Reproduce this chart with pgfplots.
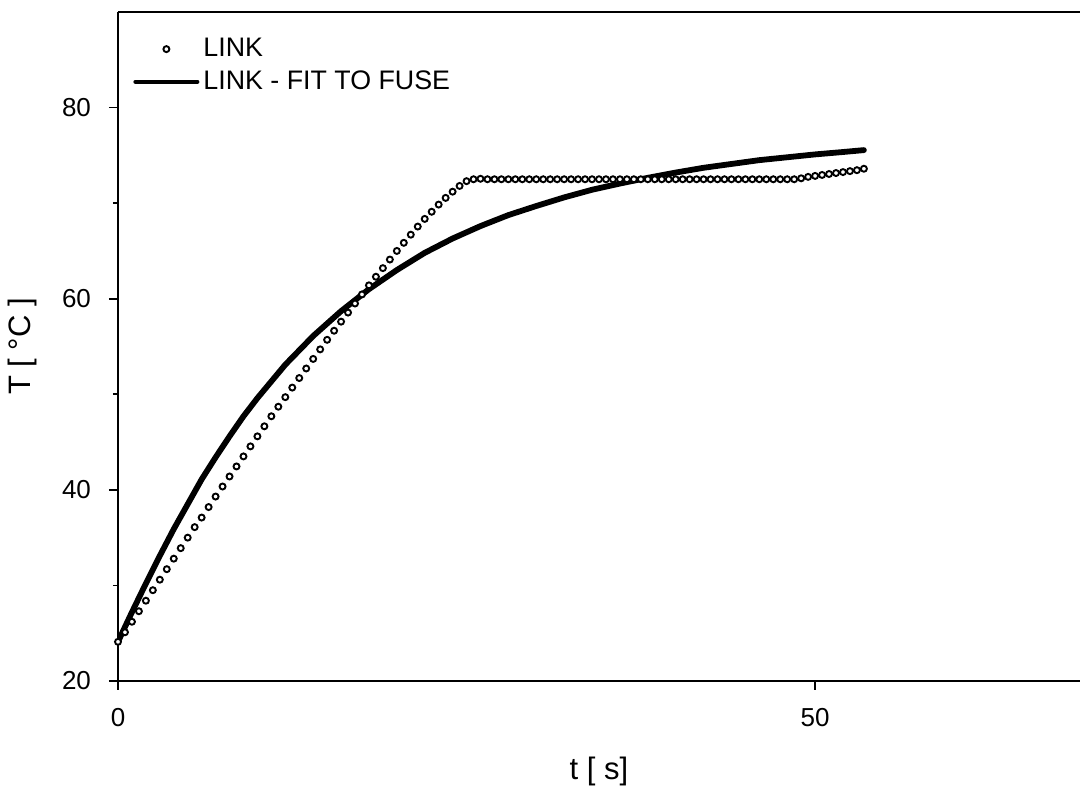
\documentclass[border=0pt]{standalone}
\usepackage{pgfplots}
\usepackage{pgfplotstable}
\pgfplotsset{compat=1.18}
\usepackage{fontspec}
\setmainfont{Liberation Sans}

% Measured link temperature, sampled every 0.5 s
\pgfplotstableread{
t T
0.0 24.1
0.5 25.1
1.0 26.2
1.5 27.3
2.0 28.4
2.5 29.5
3.0 30.6
3.5 31.7
4.0 32.8
4.5 33.9
5.0 35.0
5.5 36.1
6.0 37.1
6.5 38.2
7.0 39.3
7.5 40.35
8.0 41.4
8.5 42.45
9.0 43.5
9.5 44.55
10.0 45.6
10.5 46.65
11.0 47.7
11.5 48.7
12.0 49.7
12.5 50.7
13.0 51.7
13.5 52.7
14.0 53.7
14.5 54.7
15.0 55.7
15.5 56.65
16.0 57.6
16.5 58.55
17.0 59.5
17.5 60.45
18.0 61.4
18.5 62.3
19.0 63.2
19.5 64.1
20.0 65.0
20.5 65.85
21.0 66.7
21.5 67.55
22.0 68.35
22.5 69.1
23.0 69.85
23.5 70.55
24.0 71.2
24.5 71.8
25.0 72.3
25.5 72.5
26.0 72.55
26.5 72.5
27.0 72.5
27.5 72.5
28.0 72.5
28.5 72.5
29.0 72.5
29.5 72.5
30.0 72.5
30.5 72.5
31.0 72.5
31.5 72.5
32.0 72.5
32.5 72.5
33.0 72.5
33.5 72.5
34.0 72.5
34.5 72.5
35.0 72.5
35.5 72.5
36.0 72.5
36.5 72.5
37.0 72.5
37.5 72.5
38.0 72.5
38.5 72.5
39.0 72.5
39.5 72.5
40.0 72.5
40.5 72.5
41.0 72.5
41.5 72.5
42.0 72.5
42.5 72.5
43.0 72.5
43.5 72.5
44.0 72.5
44.5 72.5
45.0 72.5
45.5 72.5
46.0 72.5
46.5 72.5
47.0 72.5
47.5 72.5
48.0 72.5
48.5 72.5
49.0 72.6
49.5 72.75
50.0 72.85
50.5 72.95
51.0 73.05
51.5 73.15
52.0 73.25
52.5 73.35
53.0 73.45
53.5 73.6
}\linkdata

% Fitted link temperature (fit to fuse)
\pgfplotstableread{
t T
0 24.1
1 27.2
2 30.2
3 33.1
4 35.9
5 38.5
6 41.1
7 43.4
8 45.6
9 47.7
10 49.6
12 53.1
14 56.1
16 58.7
18 61.0
20 63.0
22 64.8
24 66.3
26 67.6
28 68.75
30 69.7
32 70.6
34 71.4
36 72.05
38 72.65
40 73.2
42 73.7
44 74.1
46 74.5
48 74.8
50 75.1
52 75.35
53.5 75.55
}\fitdata

\begin{document}
\begin{tikzpicture}
\begin{axis}[
  at={(0pt,0pt)}, anchor=south west,
  scale only axis, width=481pt, height=334.5pt,
  xmin=0, xmax=69, ymin=20, ymax=90,
  axis x line*=box, axis y line*=left,
  axis line style={-, line width=1pt},
  xtick={0,50}, ytick={20,40,60,80},
  minor ytick={30,50,70},
  xtick pos=left, ytick pos=left,
  tick align=outside,
  major tick length=4.5pt, minor tick length=2.5pt,
  every tick/.style={black, line width=0.8pt},
  /pgf/number format/assume math mode=true,
  ticklabel style={font=\fontsize{13}{15}\selectfont},
  xticklabel style={yshift=-5.5pt},
  yticklabel style={xshift=-5.5pt},
  xlabel={t [ s]},
  ylabel={T [ °C ]},
  label style={font=\fontsize{15.5}{18}\selectfont},
  xlabel style={at={(axis description cs:0.5,-0.136)}, anchor=center},
  ylabel style={at={(axis description cs:-0.099,0.5)}, anchor=center},
  legend cell align=left,
  legend style={draw=none, fill=none, at={(axis description cs:0.0156,1)},
    anchor=north west, yshift=-11pt, inner sep=0pt,
    font=\fontsize{13.4}{15}\selectfont, row sep=1.5pt,
    /tikz/every even column/.append style={column sep=11pt}},
]
\addplot[only marks, mark=*, mark size=1.5pt,
  mark options={draw=black, fill=white, line width=0.95pt},
  legend image code/.code={\draw[only marks, mark=*, mark size=1.5pt,
    mark options={draw=black, fill=white, line width=0.95pt}]
    plot coordinates {(15.5pt,0pt)};}]
  table[x=t, y=T] {\linkdata};
\addlegendentry{LINK}
\addplot[no marks, black, line width=2.9pt, line cap=round,
  legend image code/.code={\draw[black, line width=2pt] (0pt,0pt) -- (31pt,0pt);}]
  table[x=t, y=T] {\fitdata};
\addlegendentry{LINK - FIT TO FUSE}
\end{axis}
\pgfresetboundingbox
\useasboundingbox (-59pt,-57.5pt) rectangle (481.5pt,340.5pt);
\end{tikzpicture}
\end{document}
